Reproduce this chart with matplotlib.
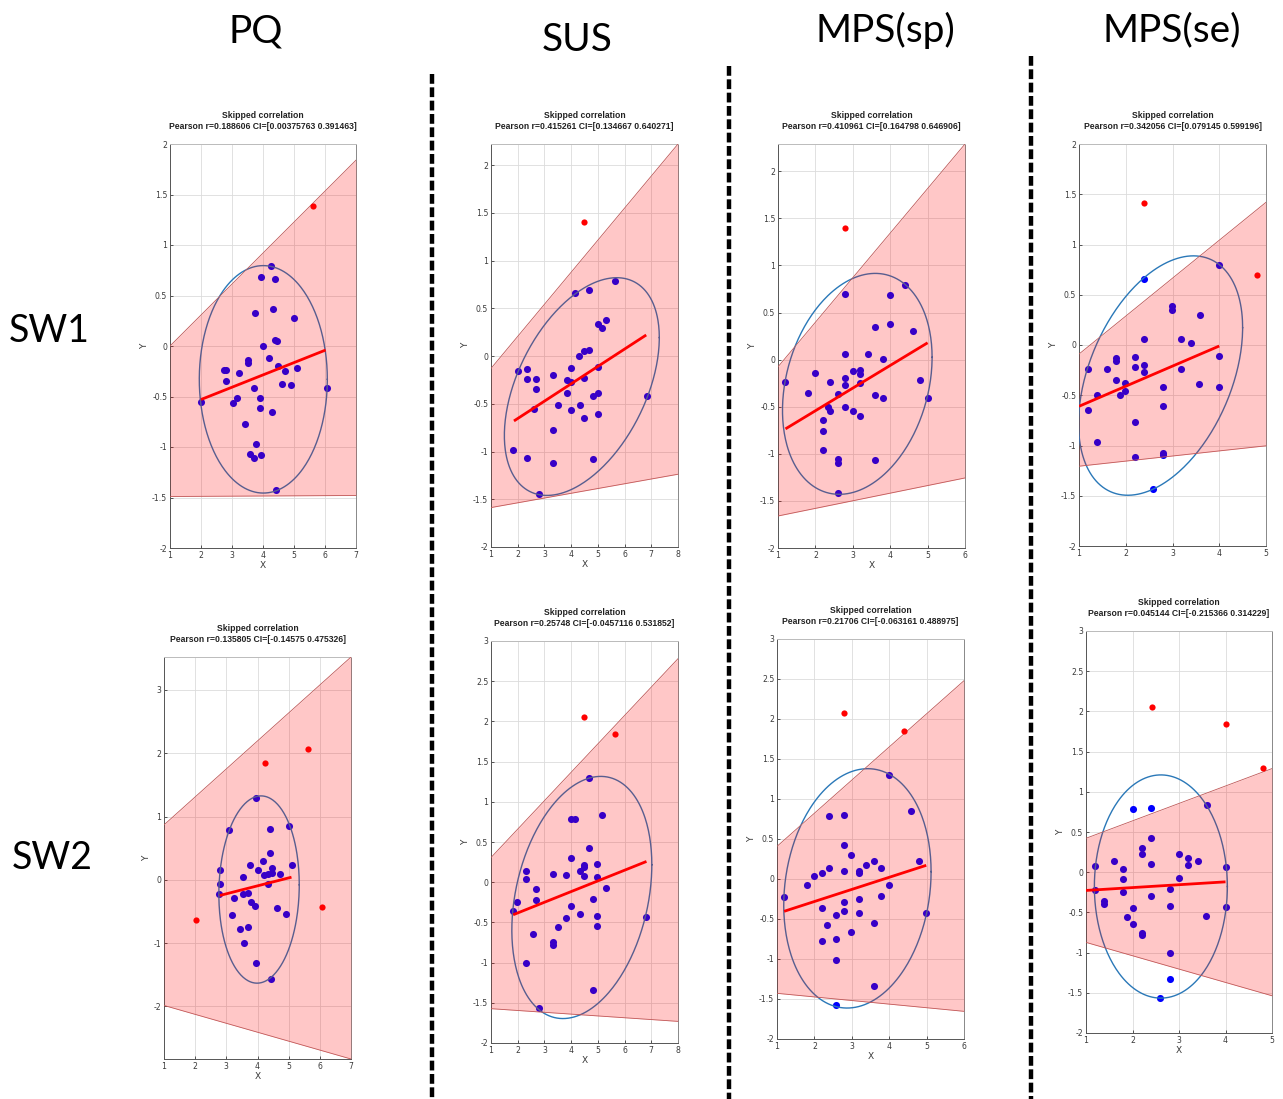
import numpy as np
import matplotlib
matplotlib.use("Agg")
import matplotlib.pyplot as plt
from matplotlib.lines import Line2D
from matplotlib.ticker import FormatStrFormatter

# ---------------- data ----------------
col_titles = ["PQ", "SUS", "MPS(sp)", "MPS(se)"]
row_titles = ["SW1", "SW2"]

r_vals = ["0.188606", "0.415261", "0.410961", "0.342056",
          "0.135805", "0.25748", "0.21706", "0.045144"]
ci_lo = ["0.00375763", "0.134667", "0.164798", "0.079145",
         "-0.14575", "-0.0457116", "-0.063161", "-0.215366"]
ci_hi = ["0.391463", "0.640271", "0.646906", "0.599196",
         "0.475326", "0.531852", "0.488975", "0.314229"]

# PQ - SW1
pq_sw1_x = [2.0, 4.25, 3.95, 4.4, 3.75, 4.33, 5.0, 4.39, 4.44, 4.0, 4.18, 3.5, 3.53, 2.75, 2.82,
            2.81, 3.24, 4.47, 5.1, 4.71, 4.61, 4.89, 3.7, 3.17, 3.03, 3.89, 3.89, 4.29, 3.43, 3.76,
            3.57, 3.7, 3.95, 4.43, 6.07]
pq_sw1_y = [-0.55, 0.79, 0.68, 0.66, 0.33, 0.37, 0.28, 0.06, 0.05, 0.0, -0.12, -0.14, -0.17, -0.24, -0.24,
            -0.35, -0.27, -0.2, -0.22, -0.25, -0.38, -0.39, -0.42, -0.51, -0.56, -0.51, -0.61, -0.65, -0.77, -0.97,
            -1.07, -1.11, -1.08, -1.43, -0.42]
pq_sw1_out_x = [5.61]
pq_sw1_out_y = [1.39]

# SUS - SW1
sus_sw1_x = [2.0, 2.33, 2.33, 2.68, 2.68, 3.33, 2.6, 1.84, 2.33, 3.33, 3.33, 2.81, 3.5, 3.83, 3.83,
             4.0, 4.0, 4.0, 4.31, 4.49, 4.66, 4.49, 4.34, 4.49, 4.83, 5.0, 5.0, 5.0, 4.83, 4.16,
             4.66, 5.66, 5.0, 5.31, 5.16, 6.83]
sus_sw1_y = [-0.16, -0.14, -0.24, -0.24, -0.35, -0.2, -0.55, -0.98, -1.07, -0.77, -1.12, -1.44, -0.51, -0.25, -0.39,
             -0.13, -0.27, -0.57, 0.0, 0.05, 0.06, -0.23, -0.51, -0.65, -0.42, -0.39, -0.11, -0.61, -1.08, 0.66,
             0.69, 0.79, 0.34, 0.38, 0.29, -0.42]
sus_sw1_out_x = [4.49]
sus_sw1_out_y = [1.40]

# MPS(sp) - SW1
sp_sw1_x = [1.2, 1.79, 1.99, 2.39, 2.2, 2.2, 2.2, 2.35, 2.39, 2.6, 2.6, 2.6, 2.6,
            2.79, 3.99, 4.39, 3.99, 3.6, 4.6,
            2.79, 3.4, 3.8, 3.0, 3.2, 3.2, 2.79, 2.79, 3.2, 3.6, 3.8, 4.8, 5.0,
            2.79, 3.0, 3.2, 3.6]
sp_sw1_y = [-0.24, -0.35, -0.14, -0.24, -0.64, -0.76, -0.96, -0.5, -0.55, -0.37, -1.06, -1.1, -1.42,
            0.7, 0.69, 0.79, 0.38, 0.35, 0.3,
            0.06, 0.055, 0.01, -0.12, -0.11, -0.15, -0.19, -0.27, -0.25, -0.38, -0.41, -0.22, -0.41,
            -0.5, -0.54, -0.6, -1.07]
sp_sw1_out_x = [2.79]
sp_sw1_out_y = [1.40]

# MPS(se) - SW1
se_sw1_x = [1.19, 1.19, 1.39, 1.39, 1.59, 1.79, 1.79, 1.79, 1.87, 1.99, 1.99, 2.19, 2.19, 2.19, 2.19,
            2.39, 2.39, 2.39, 2.39, 2.79, 2.79, 2.79, 2.79, 2.59, 2.99, 2.99, 3.19, 3.19, 3.39, 3.59,
            3.57, 3.99, 3.99, 3.99]
se_sw1_y = [-0.24, -0.65, -0.5, -0.97, -0.24, -0.13, -0.16, -0.35, -0.5, -0.38, -0.46, -0.12, -0.22, -0.77, -1.11,
            0.66, 0.06, -0.2, -0.27, -0.42, -0.61, -1.07, -1.09, -1.43, 0.39, 0.35, 0.06, -0.24, 0.02, 0.3,
            -0.39, 0.8, -0.11, -0.42]
se_sw1_out_x = [2.39, 4.8]
se_sw1_out_y = [1.41, 0.70]

# PQ - SW2
pq_sw2_x = [2.76, 2.81, 2.81, 3.07, 3.25, 3.19, 3.43, 3.53, 3.53, 3.57, 3.71, 3.71, 3.76, 3.78, 3.91, 3.95,
            3.96, 4.01, 4.19, 4.22, 4.33, 4.34, 4.40, 4.40, 4.45, 4.47, 4.72, 4.62, 4.9, 5.1, 5.01, 4.44]
pq_sw2_y = [-0.22, -0.07, 0.15, 0.79, -0.28, -0.55, -0.77, 0.05, -0.23, -0.99, -0.2, -0.74, 0.24, -0.35, -0.42, 1.29,
            -1.32, 0.15, 0.3, 0.08, 0.09, -0.06, 0.42, 0.8, 0.18, 0.11, 0.1, -0.45, -0.54, 0.24, 0.85, -1.56]
pq_sw2_out_x = [2.02, 4.25, 5.63, 6.06]
pq_sw2_out_y = [-0.64, 1.85, 2.06, -0.43]

# SUS - SW2
sus_sw2_x = [1.81, 1.98, 2.32, 2.32, 2.32, 2.59, 2.67, 2.67, 2.81, 3.32, 3.32, 3.33, 3.49, 3.81, 3.81,
             3.99, 3.99, 4.16, 3.99, 4.33, 4.48, 4.49, 4.49, 4.33, 4.65, 4.65, 4.81, 4.98, 4.98, 4.98,
             4.98, 5.15, 5.31, 4.81, 6.82]
sus_sw2_y = [-0.36, -0.25, 0.04, 0.14, -1.0, -0.65, -0.08, -0.22, -1.57, 0.1, -0.74, -0.78, -0.56, 0.09, -0.45,
             0.3, 0.78, 0.79, -0.29, 0.14, 0.19, 0.22, 0.08, -0.4, 0.42, 1.29, -0.21, 0.23, 0.06, -0.42,
             -0.55, 0.84, -0.07, -1.34, -0.43]
sus_sw2_out_x = [4.49, 5.65]
sus_sw2_out_y = [2.05, 1.84]

# MPS(sp) - SW2
sp_sw2_x = [1.19, 1.79, 1.99, 2.19, 2.19, 2.19, 2.38, 2.38, 2.35, 2.59, 2.59, 2.59, 2.59, 2.79, 2.79,
            2.79, 2.79, 2.79, 2.99, 2.99, 3.19, 3.19, 3.19, 3.19, 3.39, 3.59, 3.59, 3.59, 3.79, 3.79,
            3.99, 3.99, 4.58, 4.79, 4.99]
sp_sw2_y = [-0.22, -0.08, 0.04, 0.08, -0.36, -0.78, 0.79, 0.14, -0.57, -0.45, -0.75, -1.01, -1.58, 0.8, 0.43,
            0.1, -0.29, -0.4, 0.3, -0.66, 0.1, 0.07, -0.25, -0.43, 0.18, 0.23, -0.55, -1.34, 0.14, -0.21,
            1.3, -0.07, 0.85, 0.23, -0.43]
sp_sw2_out_x = [2.79, 4.39]
sp_sw2_out_y = [2.07, 1.85]

# MPS(se) - SW2
se_sw2_x = [1.2, 1.2, 1.39, 1.39, 1.6, 1.8, 1.8, 1.8, 2.0, 2.0, 1.89, 2.0, 2.2, 2.2, 2.2, 2.2, 2.4,
            2.4, 2.4, 2.4, 2.6, 2.8, 2.8, 2.8, 2.8, 3.0, 3.0, 3.2, 3.2, 3.4, 3.6, 3.58, 4.0, 4.0]
se_sw2_y = [0.08, -0.22, -0.36, -0.4, 0.14, 0.04, -0.08, -0.25, 0.78, -0.45, -0.56, -0.65, -0.75, -0.78, 0.3,
            0.23, 0.8, 0.42, 0.1, -0.29, -1.57, -0.21, -0.42, -1.0, -1.33, 0.23, -0.07, 0.18, 0.09, 0.14,
            0.84, -0.55, 0.06, -0.43]
se_sw2_out_x = [2.41, 4.0, 4.8]
se_sw2_out_y = [2.05, 1.84, 1.29]

# fitted line end points (x0, x1, y0, y1)
fit_x0 = [2.0, 1.86, 1.2, 1.0, 2.79, 1.83, 1.19, 1.0]
fit_x1 = [6.02, 6.81, 5.0, 4.0, 5.09, 6.82, 4.99, 4.0]
fit_y0 = [-0.53, -0.68, -0.735, -0.61, -0.247, -0.405, -0.404, -0.227]
fit_y1 = [-0.04, 0.22, 0.179, -0.01, 0.042, 0.258, 0.171, -0.12]

# CI band edges at the left and right x limits
band_lo_left = [-1.49, -1.587, -1.66, -1.206, -1.984, -1.573, -1.429, -0.873]
band_lo_right = [-1.48, -1.238, -1.256, -1.003, -2.83, -1.731, -1.654, -1.537]
band_hi_left = [0.0, -0.13, -0.076, -0.09, 0.868, 0.307, 0.408, 0.422]
band_hi_right = [1.84, 2.22, 2.29, 1.42, 3.52, 2.78, 2.479, 1.289]

# ellipse: centre, half extents, tilt
ell_cx = [4.01, 4.4, 3.12, 2.745, 4.05, 4.4, 3.15, 2.61]
ell_cy = [-0.33, -0.32, -0.257, -0.304, -0.153, -0.19, -0.117, -0.178]
ell_rx = [2.065, 2.9, 2.0, 1.755, 1.29, 2.62, 1.97, 1.43]
ell_ry = [1.126, 1.14, 1.173, 1.191, 1.479, 1.506, 1.496, 1.388]
ell_rho = [0.0, 0.45, 0.24, 0.4, 0.05, 0.27, 0.14, 0.0]

x_lims = [(1, 7), (1, 8), (1, 6), (1, 5), (1, 7), (1, 8), (1, 6), (1, 5)]
y_lims = [(-2, 2), (-2, 2.22), (-2, 2.29), (-2, 2), (-2.83, 3.52), (-2, 3), (-2, 3), (-2, 3)]
y_steps = [0.5, 0.5, 0.5, 0.5, 1.0, 0.5, 0.5, 0.5]

inl_x = [pq_sw1_x, sus_sw1_x, sp_sw1_x, se_sw1_x, pq_sw2_x, sus_sw2_x, sp_sw2_x, se_sw2_x]
inl_y = [pq_sw1_y, sus_sw1_y, sp_sw1_y, se_sw1_y, pq_sw2_y, sus_sw2_y, sp_sw2_y, se_sw2_y]
out_x = [pq_sw1_out_x, sus_sw1_out_x, sp_sw1_out_x, se_sw1_out_x,
         pq_sw2_out_x, sus_sw2_out_x, sp_sw2_out_x, se_sw2_out_x]
out_y = [pq_sw1_out_y, sus_sw1_out_y, sp_sw1_out_y, se_sw1_out_y,
         pq_sw2_out_y, sus_sw2_out_y, sp_sw2_out_y, se_sw2_out_y]

# ---------------- layout (pixels) ----------------
W, H = 1283, 1099
boxes = [(170, 356, 144, 548), (491, 678, 144, 547), (778, 965, 144, 548), (1079, 1266, 144, 546),
         (164, 351, 657, 1059), (491, 678, 641, 1043), (777, 964, 639, 1039), (1086, 1272, 631, 1033)]
show_xlabel = [True, True, True, False, True, True, True, True]

fig = plt.figure(figsize=(W / 100, H / 100), dpi=100)
fig.patch.set_facecolor("white")

tick_col = "#3a3a3a"
for i in range(8):
    l, r, t, b = boxes[i]
    ax = fig.add_axes([l / W, 1 - b / H, (r - l) / W, (b - t) / H])
    x0, x1 = x_lims[i]
    y0, y1 = y_lims[i]
    ax.set_xlim(x0, x1)
    ax.set_ylim(y0, y1)
    ax.set_xticks(np.arange(x0, x1 + 0.01, 1))
    st = y_steps[i]
    ax.set_yticks(np.arange(-2, np.floor(y1 / st) * st + 0.001, st))
    ax.xaxis.set_major_formatter(FormatStrFormatter("%g"))
    ax.yaxis.set_major_formatter(FormatStrFormatter("%g"))
    ax.grid(True, color="#dcdcdc", lw=0.6, zorder=0)
    ax.set_axisbelow(True)
    ax.tick_params(direction="in", length=2.5, width=0.6, labelsize=5.6, colors=tick_col, pad=2)
    for s in ax.spines.values():
        s.set_color("#555555")
        s.set_linewidth(0.7)
    ax.spines["top"].set_color("#bbbbbb")
    ax.spines["right"].set_color("#888888")

    # inliers
    ax.scatter(inl_x[i], inl_y[i], s=26, color="#0000ff", zorder=2, linewidths=0)
    # ellipse
    t_ = np.linspace(0, 2 * np.pi, 300)
    rho = ell_rho[i]
    ex = ell_cx[i] + ell_rx[i] * np.cos(t_)
    ey = ell_cy[i] + ell_ry[i] * (rho * np.cos(t_) + np.sqrt(1 - rho ** 2) * np.sin(t_))
    ax.plot(ex, ey, color="#2a78b8", lw=1.0, zorder=3)
    # CI band
    bx = [x0, x1]
    ax.fill_between(bx, [band_lo_left[i], band_lo_right[i]], [band_hi_left[i], band_hi_right[i]],
                    color="#ff0000", alpha=0.22, lw=0, zorder=4)
    ax.plot(bx, [band_hi_left[i], band_hi_right[i]], color="#c05858", lw=0.6, zorder=4)
    ax.plot(bx, [band_lo_left[i], band_lo_right[i]], color="#c05858", lw=0.6, zorder=4)
    # fit line
    ax.plot([fit_x0[i], fit_x1[i]], [fit_y0[i], fit_y1[i]], color="#ff0000", lw=2.0, zorder=5,
            solid_capstyle="butt")
    # outliers
    ax.scatter(out_x[i], out_y[i], s=20, color="#ff0000", zorder=6, linewidths=0)

    ax.set_title("Skipped correlation\nPearson r=%s CI=[%s %s]" % (r_vals[i], ci_lo[i], ci_hi[i]),
                 fontsize=6.2, fontweight="bold", family="Liberation Sans", pad=11, color="#222222",
                 linespacing=1.25)
    ax.set_ylabel("Y", fontsize=6.5, color=tick_col, labelpad=2)
    if show_xlabel[i]:
        ax.set_xlabel("X", fontsize=6.5, color=tick_col, labelpad=1)

# column and row headers
col_pos = [(256, 32), (577, 40), (885, 30), (1172, 30)]
for name, (px, py) in zip(col_titles, col_pos):
    fig.text(px / W, 1 - py / H, name, ha="center", va="center", fontsize=28, family="Lato")
row_pos = [(49, 331), (52, 858)]
for name, (px, py) in zip(row_titles, row_pos):
    fig.text(px / W, 1 - py / H, name, ha="center", va="center", fontsize=27, family="Lato")

# dashed separators
for sx, sy in [(432, 74), (729, 66), (1031, 56)]:
    fig.add_artist(Line2D([sx / W, sx / W], [1 - sy / H, 0], color="black", lw=3.2,
                          linestyle=(0, (2.2, 0.8))))

fig.savefig("out.png", dpi=100)
